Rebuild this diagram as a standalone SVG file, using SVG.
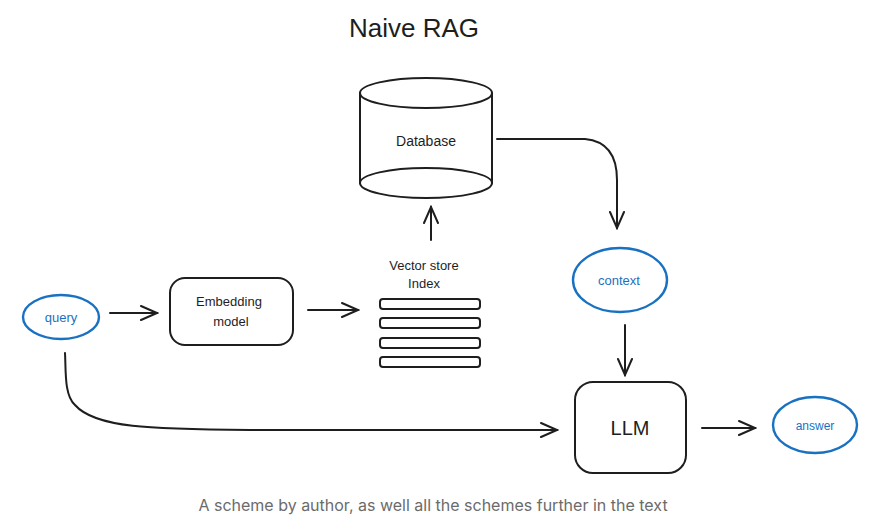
<svg xmlns="http://www.w3.org/2000/svg" width="877" height="521" viewBox="0 0 877 521">
<defs>
<style>
.s{fill:none;stroke:#1e1e1e;stroke-width:2;stroke-linecap:round;stroke-linejoin:round}
.b{fill:none;stroke:#1971c2;stroke-width:2.4}
.t{font-family:"Liberation Sans","DejaVu Sans",sans-serif;fill:#1e1e1e;text-anchor:middle}
.tb{font-family:"Liberation Sans","DejaVu Sans",sans-serif;fill:#1971c2;text-anchor:middle}
</style>
<marker id="ah" viewBox="0 0 20 20" refX="18" refY="10" markerWidth="20" markerHeight="20" markerUnits="userSpaceOnUse" orient="auto">
<path d="M2,3 L18,10 L2,17" fill="none" stroke="#1e1e1e" stroke-width="2" stroke-linecap="round"/>
</marker>
</defs>
<rect width="877" height="521" fill="#ffffff"/>
<text class="t" x="414" y="37" font-size="26">Naive RAG</text>

<g id="database">
<path class="s" d="M360,93 L360,183 M492,93 L492,183"/>
<ellipse class="s" cx="426" cy="93" rx="66" ry="15" fill="#fff"/>
<ellipse class="s" cx="426" cy="183" rx="66" ry="15"/>
<text class="t" x="426" y="146" font-size="14">Database</text>
</g>

<g id="query">
<ellipse class="b" cx="61" cy="317" rx="38" ry="22"/>
<text class="tb" x="61" y="322" font-size="13">query</text>
</g>

<g id="embedding">
<rect class="s" x="170" y="278" width="123" height="67" rx="15"/>
<text class="t" x="229" y="306" font-size="13">Embedding</text>
<text class="t" x="231" y="326" font-size="13">model</text>
</g>

<g id="vectorstore">
<text class="t" x="424" y="270" font-size="13">Vector store</text>
<text class="t" x="424" y="288" font-size="13">Index</text>
<rect class="s" x="380" y="299" width="100" height="10" rx="3" stroke-width="1.6"/>
<rect class="s" x="380" y="318" width="100" height="10" rx="3" stroke-width="1.6"/>
<rect class="s" x="380" y="338" width="100" height="10" rx="3" stroke-width="1.6"/>
<rect class="s" x="380" y="357" width="100" height="10" rx="3" stroke-width="1.6"/>
</g>

<g id="context">
<ellipse class="b" cx="620" cy="280" rx="47" ry="32"/>
<text class="tb" x="619" y="285" font-size="13">context</text>
</g>

<g id="llm">
<rect class="s" x="575" y="382" width="111" height="91" rx="18"/>
<text class="t" x="630" y="435" font-size="20">LLM</text>
</g>

<g id="answer">
<ellipse class="b" cx="815" cy="425" rx="42" ry="28"/>
<text class="tb" x="815" y="430" font-size="12">answer</text>
</g>

<g id="connectors">
<path class="s" d="M110,313 L157,313" marker-end="url(#ah)"/>
<path class="s" d="M308,310 L358,310" marker-end="url(#ah)"/>
<path class="s" d="M431,240 L431,207" marker-end="url(#ah)"/>
<path class="s" d="M497,139 L585,139 Q617,142 617,180 L617,228" marker-end="url(#ah)"/>
<path class="s" d="M625,325 L625,375" marker-end="url(#ah)"/>
<path class="s" d="M702,428 L755,428" marker-end="url(#ah)"/>
<path class="s" d="M65,353 C66,370 64,395 75,405 C95,428 150,429 250,430 L557,430" marker-end="url(#ah)"/>
</g>

<text x="433" y="511" font-family="Inter,'Liberation Sans',sans-serif" font-size="16" fill="#6b6b6b" text-anchor="middle">A scheme by author, as well all the schemes further in the text</text>
</svg>
